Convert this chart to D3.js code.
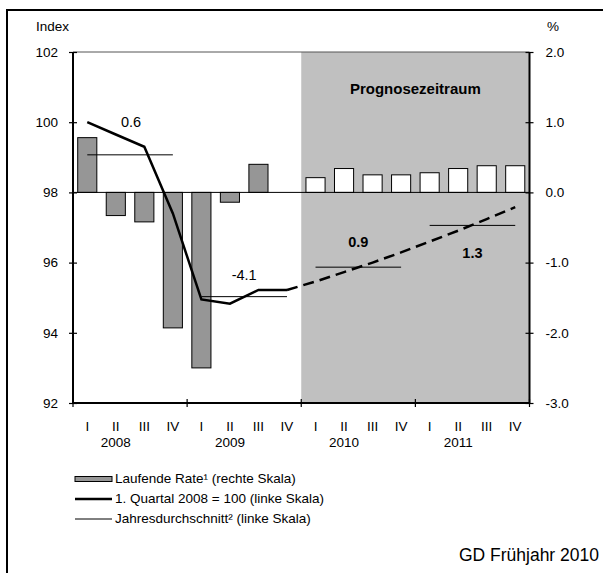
<!DOCTYPE html>
<html>
<head>
<meta charset="utf-8">
<script src="https://cdn.jsdelivr.net/npm/d3@7"></script>
<style>
  body { margin: 0; background: #fff; }
  svg text { font-family: "Liberation Sans", Arial, sans-serif; fill: #000; }
</style>
</head>
<body>
<div id="chart"></div>
<script>
const quarterLabels = ["I", "II", "III", "IV"];
const years = ["2008", "2009", "2010", "2011"];
// laufende Rate in % (rechte Skala)
const rate = [0.78, -0.33, -0.42, -1.93, -2.5, -0.14, 0.40, 0.0,
              0.21, 0.34, 0.25, 0.25, 0.28, 0.34, 0.38, 0.38];
// 1. Quartal 2008 = 100 (linke Skala)
const indexValues = [100, 99.65, 99.3, 97.4, 94.95, 94.83, 95.22, 95.22,
                     95.46, 95.73, 96.0, 96.29, 96.6, 96.91, 97.24, 97.58];
// Jahresdurchschnitt (linke Skala)
const annualAvg = [99.07, 95.03, 95.87, 97.06];
const annualRate = ["0.6", "-4.1", "0.9", "1.3"];
const forecastStart = 8;

const W = 603, H = 573;
const margin = { top: 52, right: 73.5, bottom: 170, left: 73 };
const width = W - margin.left - margin.right;
const height = H - margin.top - margin.bottom;

const periods = d3.range(rate.length);

const svg = d3.select("#chart").append("svg")
    .attr("width", W)
    .attr("height", H);

// outer frame
svg.append("rect")
    .attr("x", 7).attr("y", 10)
    .attr("width", 700).attr("height", 700)
    .attr("fill", "none")
    .attr("stroke", "#000")
    .attr("stroke-width", 2);

const g = svg.append("g")
    .attr("transform", "translate(" + margin.left + "," + margin.top + ")");

const x = d3.scaleBand()
    .domain(periods)
    .range([0, width])
    .paddingInner(0.33)
    .paddingOuter(0.165);

const xq = d3.scaleBand().domain(periods).range([0, width]);
const cx = i => xq(i) + xq.bandwidth() / 2;

const yL = d3.scaleLinear().domain([92, 102]).range([height, 0]);
const yR = d3.scaleLinear().domain([-3, 2]).range([height, 0]);

// forecast area
g.append("rect")
    .attr("x", xq(forecastStart))
    .attr("y", 0)
    .attr("width", width - xq(forecastStart))
    .attr("height", height)
    .attr("fill", "#c0c0c0");

g.append("text")
    .attr("x", (xq(forecastStart) + width) / 2)
    .attr("y", 38)
    .attr("text-anchor", "middle")
    .attr("dominant-baseline", "middle")
    .style("font-size", "15px")
    .style("font-weight", "bold")
    .text("Prognosezeitraum");

// top frame line
g.append("line")
    .attr("x1", 0).attr("x2", width)
    .attr("y1", 0).attr("y2", 0)
    .attr("stroke", "#555")
    .attr("stroke-width", 1);

// bars
g.selectAll(".bar")
    .data(rate)
    .enter().append("rect")
    .attr("class", "bar")
    .attr("x", (d, i) => x(i))
    .attr("width", x.bandwidth())
    .attr("y", d => yR(Math.max(0, d)))
    .attr("height", d => Math.abs(yR(d) - yR(0)))
    .attr("fill", (d, i) => i < forecastStart ? "#969696" : "#fff")
    .attr("stroke", "#000")
    .attr("stroke-width", 1)
    .style("display", d => d === 0 ? "none" : null);

// zero line
g.append("line")
    .attr("x1", 0).attr("x2", width)
    .attr("y1", yR(0)).attr("y2", yR(0))
    .attr("stroke", "#000")
    .attr("stroke-width", 1);

// annual averages
g.selectAll(".avg")
    .data(annualAvg)
    .enter().append("line")
    .attr("class", "avg")
    .attr("x1", (d, i) => cx(i * 4))
    .attr("x2", (d, i) => cx(i * 4 + 3))
    .attr("y1", d => yL(d))
    .attr("y2", d => yL(d))
    .attr("stroke", "#000")
    .attr("stroke-width", 1);

const labelDx = [1, 0, 0, 0];
const labelDy = [-32, -20, -24, 29];
g.selectAll(".avglabel")
    .data(annualRate)
    .enter().append("text")
    .attr("class", "avglabel")
    .attr("x", (d, i) => (cx(i * 4 + 1) + cx(i * 4 + 2)) / 2 + labelDx[i])
    .attr("y", (d, i) => yL(annualAvg[i]) + labelDy[i])
    .attr("text-anchor", "middle")
    .attr("dominant-baseline", "middle")
    .style("font-size", "14.5px")
    .style("font-weight", (d, i) => i * 4 >= forecastStart ? "bold" : "normal")
    .text(d => d);

// index line
const line = d3.line()
    .x(d => cx(d))
    .y(d => yL(indexValues[d]));

g.append("path")
    .datum(periods.slice(0, forecastStart))
    .attr("d", line)
    .attr("fill", "none")
    .attr("stroke", "#000")
    .attr("stroke-width", 2.5);

g.append("path")
    .datum(periods.slice(forecastStart - 1))
    .attr("d", line)
    .attr("fill", "none")
    .attr("stroke", "#000")
    .attr("stroke-width", 2.5)
    .attr("stroke-dasharray", "11,6");

// axes
const fmt = d => d3.format(".1f")(d).replace("\u2212", "-");
const axisL = g.append("g")
    .call(d3.axisLeft(yL).tickValues(d3.range(92, 103, 2)).tickSize(4).tickPadding(11));
const axisR = g.append("g")
    .attr("transform", "translate(" + width + ",0)")
    .call(d3.axisRight(yR).tickValues(d3.range(-3, 2.1, 1)).tickSize(4).tickPadding(12).tickFormat(fmt));
[axisL, axisR].forEach(a => {
    a.attr("font-family", null);
    a.select(".domain").attr("stroke-width", 2).attr("d", "M0,0V" + height);
    a.selectAll(".tick line").attr("stroke-width", 1.2);
    a.selectAll(".tick text").style("font-size", "13.5px");
});
axisL.selectAll(".tick line").attr("x1", 4);
axisR.selectAll(".tick line").attr("x1", -4);

const axisB = g.append("g")
    .attr("transform", "translate(0," + height + ")");
axisB.append("line")
    .attr("x1", 0).attr("x2", width)
    .attr("stroke", "#000")
    .attr("stroke-width", 2);
axisB.selectAll(".ytick")
    .data(d3.range(0, rate.length + 1, 4))
    .enter().append("line")
    .attr("class", "ytick")
    .attr("x1", d => d < rate.length ? xq(d) : width)
    .attr("x2", d => d < rate.length ? xq(d) : width)
    .attr("y1", -4).attr("y2", 4)
    .attr("stroke", "#000")
    .attr("stroke-width", 1.2);
axisB.selectAll(".qlabel")
    .data(periods)
    .enter().append("text")
    .attr("class", "qlabel")
    .attr("x", d => cx(d))
    .attr("y", 24)
    .attr("text-anchor", "middle")
    .attr("dominant-baseline", "middle")
    .style("font-size", "13.5px")
    .text(d => quarterLabels[d % 4]);
axisB.selectAll(".ylabel")
    .data(years)
    .enter().append("text")
    .attr("class", "ylabel")
    .attr("x", (d, i) => cx(i * 4 + 1))
    .attr("y", 40)
    .attr("text-anchor", "middle")
    .attr("dominant-baseline", "middle")
    .style("font-size", "13.5px")
    .text(d => d);

// axis titles
svg.append("text")
    .attr("x", 36).attr("y", 27)
    .attr("dominant-baseline", "middle")
    .style("font-size", "13.5px")
    .text("Index");
svg.append("text")
    .attr("x", 553).attr("y", 27)
    .attr("text-anchor", "middle")
    .attr("dominant-baseline", "middle")
    .style("font-size", "13.5px")
    .text("%");

// legend
const legend = svg.append("g").attr("transform", "translate(75,479)");
const rows = [
    { type: "bar", label: "Laufende Rate¹ (rechte Skala)" },
    { type: "thick", label: "1. Quartal 2008 = 100 (linke Skala)" },
    { type: "thin", label: "Jahresdurchschnitt² (linke Skala)" }
];
rows.forEach((r, i) => {
    const row = legend.append("g").attr("transform", "translate(0," + i * 20 + ")");
    if (r.type === "bar") {
        row.append("rect")
            .attr("x", 0).attr("y", -2.5)
            .attr("width", 37).attr("height", 5)
            .attr("fill", "#969696")
            .attr("stroke", "#000")
            .attr("stroke-width", 1);
    } else {
        row.append("line")
            .attr("x1", 0).attr("x2", 37)
            .attr("stroke", "#000")
            .attr("stroke-width", r.type === "thick" ? 2.5 : 1);
    }
    row.append("text")
        .attr("x", 40)
        .attr("dominant-baseline", "middle")
        .style("font-size", "13.5px")
        .text(r.label);
});

svg.append("text")
    .attr("x", 599).attr("y", 556)
    .attr("text-anchor", "end")
    .attr("dominant-baseline", "middle")
    .style("font-size", "17.5px")
    .text("GD Frühjahr 2010");
</script>
</body>
</html>
